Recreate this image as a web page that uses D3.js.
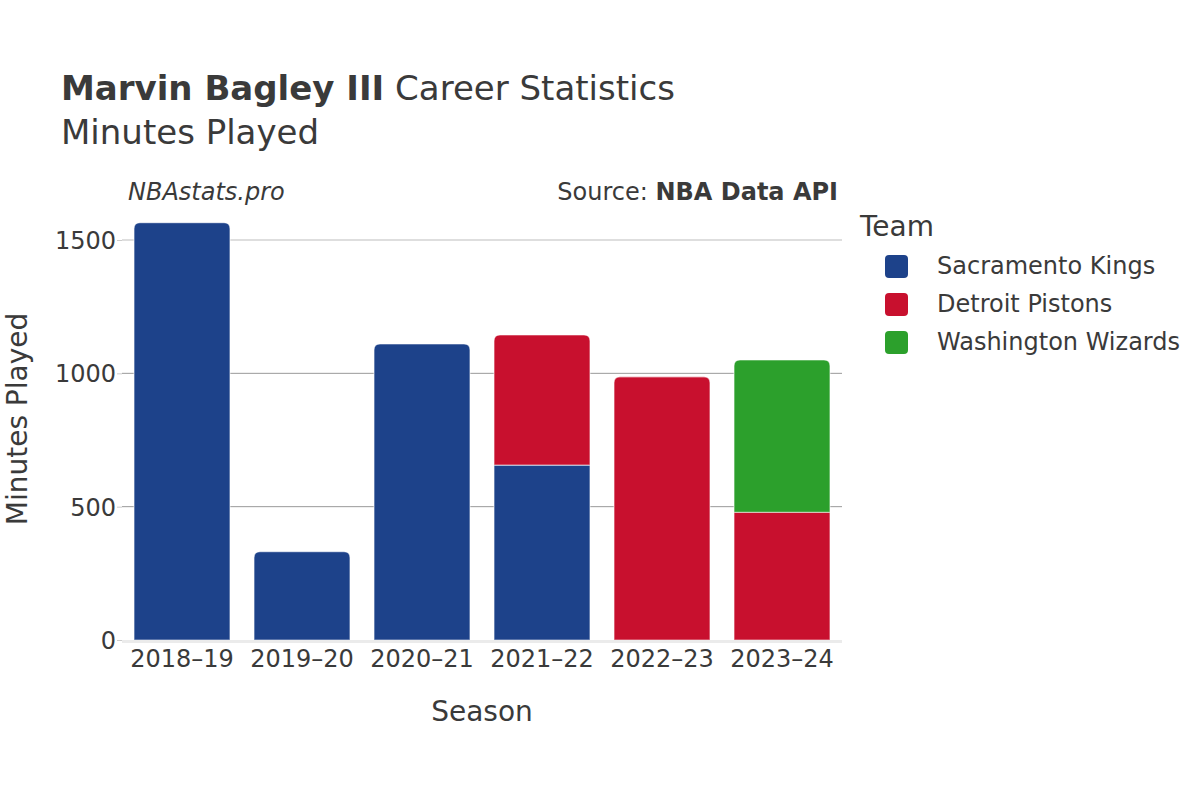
<!DOCTYPE html>
<html><head><meta charset="utf-8">
<script src="https://cdn.jsdelivr.net/npm/d3@7"></script>
<style>body{margin:0;background:#fff;} svg{display:block;font-family:"DejaVu Sans",sans-serif;}</style>
</head><body>
<svg id="c" width="1200" height="800"></svg>
<script>
const seasons = ["2018\u201319","2019\u201320","2020\u201321","2021\u201322","2022\u201323","2023\u201324"];
const teams = ["Sacramento Kings","Detroit Pistons","Washington Wizards"];
const teamColors = ["#1D428A","#C8102E","#2CA02C"];
const sacramento = [1565, 331, 1110, 656, 0, 0];
const detroit    = [0, 0, 0, 488, 987, 479];
const washington = [0, 0, 0, 0, 0, 571];
const yTicks = [0, 500, 1000, 1500];

const svg = d3.select("#c");
const m = {l:122, r:842, t:160, b:640};
const x = d3.scaleBand().domain(seasons).range([m.l, m.r]).paddingInner(0.2).paddingOuter(0.1);
const y = d3.scaleLinear().domain([0, 1500]).range([m.b, 240]);
const txt = "#3a3a3a";

// grid
svg.append("g").selectAll("line").data(yTicks.filter(d=>d>0)).join("line")
  .attr("x1", m.l).attr("x2", m.r).attr("y1", d=>y(d)).attr("y2", d=>y(d))
  .attr("stroke", d=> d===1500 ? "#bdbdbd" : "#999").attr("stroke-width",1);

// y axis
const ya = svg.append("g").attr("transform", `translate(${m.l},0)`)
  .call(d3.axisLeft(y).tickValues(yTicks).tickSize(5).tickFormat(d3.format("d")));
ya.select(".domain").remove();
ya.selectAll(".tick line").attr("stroke","#ccc").attr("x1",0).attr("x2",-5).attr("stroke-width",1);
ya.selectAll(".tick text").attr("fill",txt).style("font-size","24px").attr("font-family","DejaVu Sans").attr("x",-6).attr("dy","0.36em");

// stacked data
const rows = seasons.map((s,i)=>({season:s, "Sacramento Kings":sacramento[i], "Detroit Pistons":detroit[i], "Washington Wizards":washington[i]}));
const stack = d3.stack().keys(teams)(rows);
const color = d3.scaleOrdinal().domain(teams).range(teamColors);

const topKey = rows.map(r => { let k=null; teams.forEach(t=>{ if(r[t]>0) k=t; }); return k; });

function segPath(x0, w, y0, y1, rounded){
  const r = rounded ? Math.min(6, (y0-y1)) : 0;
  return `M${x0},${y0}L${x0},${y1+r}Q${x0},${y1} ${x0+r},${y1}L${x0+w-r},${y1}Q${x0+w},${y1} ${x0+w},${y1+r}L${x0+w},${y0}Z`;
}

const bars = svg.append("g");
stack.forEach(layer => {
  bars.append("g").selectAll("path").data(layer.filter(d=>d[1]-d[0]>0)).join("path")
    .attr("d", d => segPath(x(d.data.season), x.bandwidth(), y(d[0]), y(d[1]), topKey[seasons.indexOf(d.data.season)]===layer.key))
    .attr("fill", color(layer.key))
    .attr("stroke", "rgba(255,255,255,0.55)").attr("stroke-width", 1.2);
});

// zero line
svg.append("line").attr("x1", m.l).attr("x2", m.r).attr("y1", y(0)+1.5).attr("y2", y(0)+1.5)
  .attr("stroke","#ebebeb").attr("stroke-width",3);

// x axis
const xa = svg.append("g").attr("transform", `translate(0,${m.b})`).call(d3.axisBottom(x).tickSize(0));
xa.select(".domain").remove();
xa.selectAll(".tick text").attr("fill",txt).style("font-size","24px").attr("font-family","DejaVu Sans").attr("y",27).attr("dy","0");

// titles
const t = svg.append("text").attr("x",61).attr("y",100).attr("fill",txt).style("font-size","34px");
t.append("tspan").attr("font-weight","bold").text("Marvin Bagley III");
t.append("tspan").text(" Career Statistics");
svg.append("text").attr("x",61).attr("y",144).attr("fill",txt).style("font-size","34px").text("Minutes Played");

svg.append("text").attr("x",128).attr("y",200).attr("fill",txt).style("font-size","24px").attr("font-style","italic").text("NBAstats.pro");
const src = svg.append("text").attr("x",838).attr("y",200).attr("text-anchor","end").attr("fill",txt).style("font-size","24px");
src.append("tspan").text("Source: ");
src.append("tspan").attr("font-weight","bold").text("NBA Data API");

// axis titles
svg.append("text").attr("x", (m.l+m.r)/2).attr("y",721).attr("text-anchor","middle").attr("fill",txt).style("font-size","28px").text("Season");
svg.append("text").attr("transform",`translate(27,419) rotate(-90)`).attr("text-anchor","middle").attr("fill",txt).style("font-size","28px").text("Minutes Played");

// legend
svg.append("text").attr("x",860).attr("y",236).attr("fill",txt).style("font-size","28px").text("Team");
const lg = svg.append("g").selectAll("g").data(teams).join("g")
  .attr("transform",(d,i)=>`translate(885,${266+i*38})`);
lg.append("rect").attr("x",0).attr("y",-11).attr("width",23).attr("height",23).attr("rx",4).attr("fill",d=>color(d));
lg.append("text").attr("x",52).attr("y",0).attr("dy","0.35em").attr("fill",txt).style("font-size","24px").text(d=>d);
</script>
</body></html>
